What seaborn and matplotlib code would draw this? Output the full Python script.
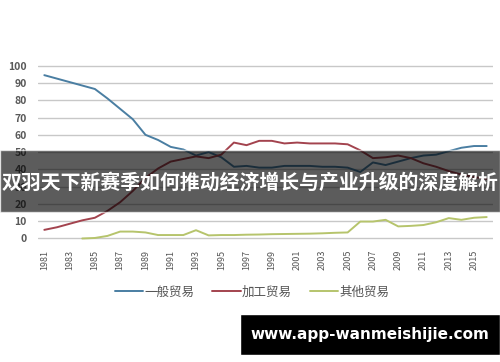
import matplotlib
matplotlib.use("Agg")
import matplotlib.pyplot as plt
from matplotlib.patches import Rectangle
import numpy as np
import pandas as pd
import seaborn as sns

years = list(range(1981, 2017))
general_trade = [94.5, 92.5, 90.5, 88.5, 86.5, 81, 75, 69, 60, 57,
                 53, 51.5, 48, 50, 47, 41.5, 42, 41, 41, 42,
                 42, 42, 41.5, 41.5, 41, 38.5, 44, 42.5, 44.5, 46.5,
                 48, 48.5, 50.5, 52.5, 53.5, 53.5]
processing_trade = [5, 6.5, 8.5, 10.5, 12, 16, 21, 27.5, 35, 40.5,
                    44.5, 46, 47.5, 46.5, 48.5, 55.5, 54, 56.5, 56.5, 55,
                    55.5, 55, 55, 55, 54.5, 51, 46.5, 47, 48, 46.5,
                    43.5, 41.5, 39, 37, 35.5, 34.5]
# the first years of "other trade" are not shown in the source
other_trade = [np.nan, np.nan, np.nan, 0, 0.3, 1.5, 4, 4, 3.5, 2,
               2, 2, 4.8, 1.8, 2, 2, 2.2, 2.3, 2.5, 2.6,
               2.7, 2.8, 3, 3.3, 3.5, 9.8, 9.8, 10.8, 7, 7.3,
               7.8, 9.4, 11.8, 10.8, 12, 12.4]
series_names = ["一般贸易", "加工贸易", "其他贸易"]
colors = ["#4a7ea2", "#a3434e", "#b6c46c"]
x_ticks = list(range(1981, 2016, 2))
y_ticks = list(range(0, 101, 10))

title = "双羽天下新赛季如何推动经济增长与产业升级的深度解析"
site = "www.app-wanmeishijie.com"

df = pd.DataFrame({
    "year": years * 3,
    "share": general_trade + processing_trade + other_trade,
    "kind": [series_names[0]] * len(years)
    + [series_names[1]] * len(years)
    + [series_names[2]] * len(years),
})

sns.set_style("white")
plt.rcParams["font.family"] = ["Noto Sans CJK SC", "DejaVu Sans"]

fig = plt.figure(figsize=(5, 3.62), dpi=100)
ax = fig.add_axes([0.076, 0.3364, 0.910, 0.487])

sns.lineplot(
    data=df,
    x="year",
    y="share",
    hue="kind",
    hue_order=series_names,
    palette=colors,
    linewidth=1.4,
    ax=ax,
)

ax.set_xlim(1980.5, 2016.5)
ax.set_ylim(-1, 101)
ax.set_xticks(x_ticks)
ax.set_xticklabels([str(y) for y in x_ticks], rotation=90, fontsize=6.5,
                   color="#555555")
ax.set_yticks(y_ticks)
ax.set_yticklabels([str(v) for v in y_ticks], fontsize=7.5,
                   fontweight="bold", color="#595959")
ax.tick_params(axis="both", length=0)
ax.tick_params(axis="y", pad=8)
ax.tick_params(axis="x", pad=7)
ax.grid(axis="y", color="#c8c8c8", linewidth=1)
ax.set_axisbelow(True)
for spine in ax.spines.values():
    spine.set_visible(False)
ax.set_xlabel("")
ax.set_ylabel("")

handles, labels = ax.get_legend_handles_labels()
ax.legend(
    handles,
    labels,
    loc="center",
    bbox_to_anchor=(0.504, 0.193),
    bbox_transform=fig.transFigure,
    ncol=3,
    frameon=False,
    fontsize=9,
    handlelength=2.3,
    handletextpad=0.1,
    columnspacing=1.4,
    labelcolor="#555555",
)

# dark title banner laid over the chart
fig.patches.append(Rectangle((0, 0.4144), 1, 0.171, transform=fig.transFigure,
                             facecolor="black", alpha=0.64, zorder=5))
fig.text(0.5, 0.497, title, ha="center", va="center", color="white",
         fontsize=14.3, fontweight="bold", zorder=6)

# site badge in the lower right corner
fig.patches.append(Rectangle((0.48, 0.019), 0.52, 0.114, transform=fig.transFigure,
                             facecolor="black", zorder=5))
fig.text(0.74, 0.075, site, ha="center", va="center", color="white",
         fontsize=11, fontweight="bold", family="DejaVu Sans", zorder=6)

fig.savefig("out.png", dpi=100)
